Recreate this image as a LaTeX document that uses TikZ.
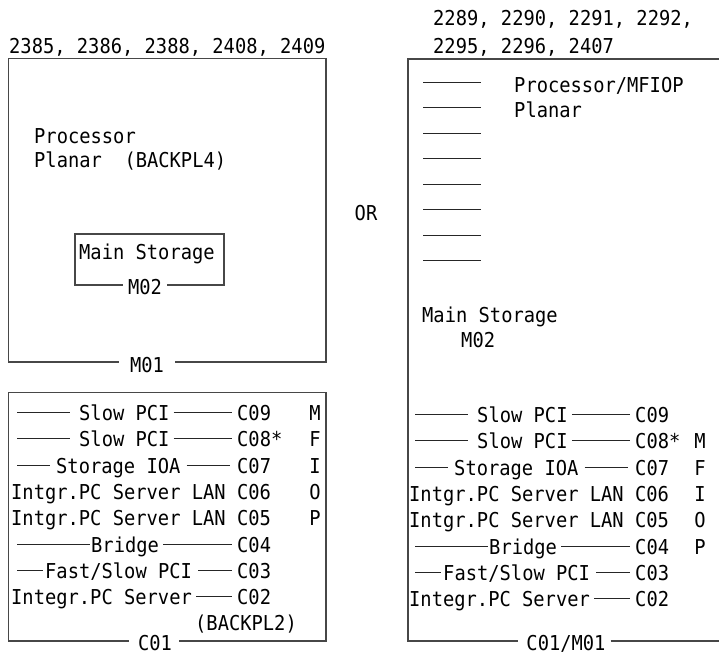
\documentclass[tikz,border=0pt]{standalone}
\usepackage{fontspec}
\newfontfamily\monofont[FakeStretch=0.915]{DejaVu Sans Mono}
\begin{document}
\begin{tikzpicture}[x=1pt,y=-1pt,
  lbl/.style={font=\monofont\fontsize{20.5pt}{24pt}\selectfont, anchor=west,
              inner sep=0pt, text height=15pt, text depth=0pt},
  lblc/.style={lbl, anchor=center},
  frame/.style={draw=black!72, line width=1.4pt},
  lead/.style={draw=black!85, line width=1.6pt}]
\useasboundingbox (0,0) rectangle (719,654);

% ---------------- upper left: processor planar (BACKPL4)
\node[lbl] (tl-title) at (9,45.5) {2385, 2386, 2388, 2408, 2409};
\coordinate (ul-tl) at (8.5,58.5);
\coordinate (ul-tr) at (326,58.5);
\coordinate (ul-br) at (326,362);
\coordinate (ul-bl) at (8.5,362);
\node[lblc] (m01) at (147,365) {M01};
\draw[frame] ([xshift=-11pt]m01.west |- ul-bl) -- (ul-bl) -- (ul-tl) -- (ul-tr)
  -- (ul-br) -- ([xshift=11pt]m01.east |- ul-br);
\node[lbl] (proc) at (34,136) {Processor};
\node[lbl] (planar) at (34,160) {Planar\ \ (BACKPL4)};

\coordinate (ms-tl) at (75,234);
\coordinate (ms-tr) at (224,234);
\coordinate (ms-br) at (224,285);
\coordinate (ms-bl) at (75,285);
\node[lbl] (ms) at (79,252) {Main Storage};
\node[lblc] (m02) at (145,287) {M02};
\draw[frame, line width=1.2pt] ([xshift=-5pt]m02.west |- ms-bl) -- (ms-bl) -- (ms-tl)
  -- (ms-tr) -- (ms-br) -- ([xshift=5pt]m02.east |- ms-br);

% ---------------- OR
\node[lblc] (or) at (366,213) {OR};

% ---------------- upper right: processor/MFIOP planar
\node[lbl] (tr-title1) at (433,17.5) {2289, 2290, 2291, 2292,};
\node[lbl] (tr-title2) at (433,45.5) {2295, 2296, 2407};
\node[lbl] (pm) at (514,85) {Processor/MFIOP};
\node[lbl] (pm2) at (514,110) {Planar};
\foreach \y in {82.5,107.5,133.5,158.5,184.5,209.5,235.5,260.5}
  \draw[lead] (423,\y) -- (481,\y);
\node[lbl] (ms2) at (422,315) {Main Storage};
\node[lbl] (m02b) at (461,340) {M02};

% ---------------- lower left: card positions (BACKPL2)
\coordinate (ll-tl) at (8.5,392.5);
\coordinate (ll-tr) at (326,392.5);
\coordinate (ll-br) at (326,641);
\coordinate (ll-bl) at (8.5,641);
\node[lblc] (c01) at (155,643) {C01};
\draw[frame] ([xshift=-9pt]c01.west |- ll-bl) -- (ll-bl) -- (ll-tl) -- (ll-tr)
  -- (ll-br) -- ([xshift=7pt]c01.east |- ll-br);

% ---------------- lower right: card positions
\coordinate (lr-tl) at (408,59);
\coordinate (lr-tr) at (719,59);
\coordinate (lr-bl) at (408,641);
\coordinate (lr-br) at (719,641);
\node[lblc] (c01m01) at (566,643) {C01/M01};
\draw[frame] (lr-tr) -- (lr-tl) -- (lr-bl) -- ([xshift=-8pt]c01m01.west |- lr-bl);
\draw[frame] ([xshift=5pt]c01m01.east |- lr-br) -- (lr-br);

% rows of both card cages: horizontal offset / vertical offset / name prefix
\foreach \dx/\dy/\p in {0/0/a, 398/2/b} {
  \begin{scope}[shift={(\dx,\dy)}]
    % row 1
    \coordinate (\p1s) at (17,412.5);
    \node[lbl] (\p1t) at (79,412.5) {Slow PCI};
    \node[lbl] (\p1c) at (237,412.5) {C09};
    \draw[lead] (\p1s) -- ([xshift=-9pt]\p1t.west);
    \draw[lead] ([xshift=4pt]\p1t.east) -- ([xshift=-5pt]\p1c.west);
    % row 2
    \coordinate (\p2s) at (17,438.5);
    \node[lbl] (\p2t) at (79,438.5) {Slow PCI};
    \node[lbl] (\p2c) at (237,438.5) {C08*};
    \draw[lead] (\p2s) -- ([xshift=-9pt]\p2t.west);
    \draw[lead] ([xshift=4pt]\p2t.east) -- ([xshift=-5pt]\p2c.west);
    % row 3
    \coordinate (\p3s) at (17,465.5);
    \node[lbl] (\p3t) at (56,465.5) {Storage IOA};
    \node[lbl] (\p3c) at (237,465.5) {C07};
    \draw[lead] (\p3s) -- ([xshift=-6pt]\p3t.west);
    \draw[lead] ([xshift=6pt]\p3t.east) -- ([xshift=-7pt]\p3c.west);
    % rows 4 and 5
    \node[lbl] (\p4t) at (11,491.5) {Intgr.PC Server LAN C06};
    \node[lbl] (\p5t) at (11,517.5) {Intgr.PC Server LAN C05};
    % row 6
    \coordinate (\p6s) at (17,544.5);
    \node[lbl] (\p6t) at (91,544.5) {Bridge};
    \node[lbl] (\p6c) at (237,544.5) {C04};
    \draw[lead] (\p6s) -- ([xshift=-1pt]\p6t.west);
    \draw[lead] ([xshift=4pt]\p6t.east) -- ([xshift=-5pt]\p6c.west);
    % row 7
    \coordinate (\p7s) at (17,570.5);
    \node[lbl] (\p7t) at (45,570.5) {Fast/Slow PCI};
    \node[lbl] (\p7c) at (237,570.5) {C03};
    \draw[lead] (\p7s) -- ([xshift=-2pt]\p7t.west);
    \draw[lead] ([xshift=6pt]\p7t.east) -- ([xshift=-5pt]\p7c.west);
    % row 8
    \node[lbl] (\p8t) at (11,596.5) {Integr.PC Server};
    \node[lbl] (\p8c) at (237,596.5) {C02};
    \draw[lead] ([xshift=4pt]\p8t.east) -- ([xshift=-5pt]\p8c.west);
  \end{scope}
}
\node[lbl] (bp2) at (195,623) {(BACKPL2)};

% MFIOP letters
\node[lblc] (am) at (315,412.5) {M};
\node[lblc] (af) at (315,438.5) {F};
\node[lblc] (ai) at (315,465.5) {I};
\node[lblc] (ao) at (315,491.5) {O};
\node[lblc] (ap) at (315,517.5) {P};
\node[lblc] (bm) at (700,440.5) {M};
\node[lblc] (bf) at (700,467.5) {F};
\node[lblc] (bi) at (700,493.5) {I};
\node[lblc] (bo) at (700,519.5) {O};
\node[lblc] (bp) at (700,546.5) {P};
\end{tikzpicture}
\end{document}
